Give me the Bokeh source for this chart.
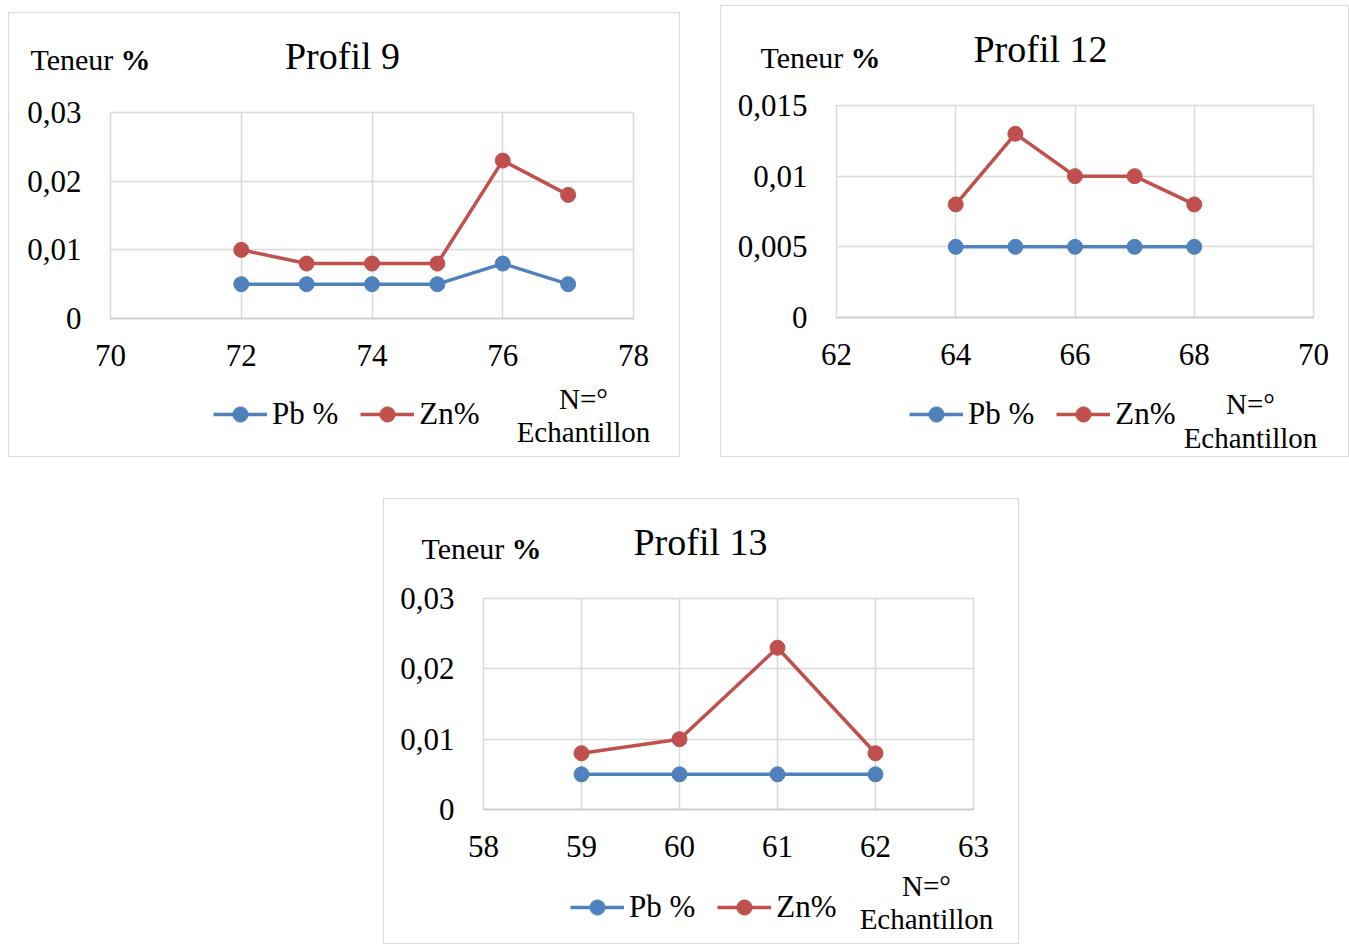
from bokeh.plotting import figure
from bokeh.models import (Range1d, FixedTicker, CustomJSTickFormatter, Label,
                          Legend, LegendItem)
from bokeh.layouts import column, row
from bokeh.embed import file_html
from bokeh.resources import INLINE

# ---------------- data ----------------
p9_x = [72, 73, 74, 75, 76, 77]
p9_pb = [0.005, 0.005, 0.005, 0.005, 0.008, 0.005]
p9_zn = [0.010, 0.008, 0.008, 0.008, 0.023, 0.018]
p9_xticks = [70, 72, 74, 76, 78]
p9_yticks = [0, 0.01, 0.02, 0.03]

p12_x = [64, 65, 66, 67, 68]
p12_pb = [0.005, 0.005, 0.005, 0.005, 0.005]
p12_zn = [0.008, 0.013, 0.010, 0.010, 0.008]
p12_xticks = [62, 64, 66, 68, 70]
p12_yticks = [0, 0.005, 0.01, 0.015]

p13_x = [59, 60, 61, 62]
p13_pb = [0.005, 0.005, 0.005, 0.005]
p13_zn = [0.008, 0.010, 0.023, 0.008]
p13_xticks = [58, 59, 60, 61, 62, 63]
p13_yticks = [0, 0.01, 0.02, 0.03]

series_names = ["Pb %", "Zn%"]
y_title = "Teneur "
y_title_bold = "%"
x_title = ["N=°", "Echantillon"]

BLUE = "#4f81bd"
RED = "#c0504d"
FONT = "Liberation Serif"
GRID = "#d9d9d9"
NAN = float("nan")
OVERLAP = 12  # bottom strip slides up over the empty part of the plot border

fmt = CustomJSTickFormatter(code="""
    if (Math.abs(tick) < 1e-12) { return '0'; }
    return String(parseFloat(tick.toFixed(4))).replace('.', ',');
""")


def blank(w, h):
    f = figure(width=w, height=h, output_backend="svg", toolbar_location=None,
               x_axis_location=None, y_axis_location=None,
               x_range=Range1d(0, w), y_range=Range1d(0, h),
               min_border=0, min_border_left=0, min_border_right=0,
               min_border_top=0, min_border_bottom=0,
               outline_line_color=None,
               background_fill_alpha=0, border_fill_alpha=0)
    f.grid.visible = False
    return f


def label(x, y, text, size, align="left", style="normal"):
    return Label(x=x, y=y, x_units="screen", y_units="screen", text=text,
                 text_font=FONT, text_font_size=size, text_font_style=style,
                 text_align=align, text_baseline="alphabetic",
                 text_color="black")


def make_chart(title, xs, pb, zn, xticks, yticks, w, hs, mb, pos, margin):
    ht, hm, hb = hs
    # ---- top strip: chart title and y title
    top = blank(w, ht)
    tx, ty = pos["title"]
    top.add_layout(label(tx, ty, title, "38px", align="center"))
    yx, yy, px = pos["ytitle"]
    top.add_layout(label(yx, yy, y_title, "30px"))
    top.add_layout(label(px, yy, y_title_bold, "30px", style="bold"))

    # ---- main plot
    p = figure(width=w, height=hm, output_backend="svg", toolbar_location=None,
               x_range=Range1d(xticks[0], xticks[-1]),
               y_range=Range1d(yticks[0], yticks[-1]),
               min_border_left=mb[0], min_border_right=mb[1],
               min_border_top=mb[2], min_border_bottom=mb[3],
               background_fill_color="white", border_fill_color="white",
               outline_line_color=GRID, outline_line_width=1.5)
    p.xaxis.ticker = FixedTicker(ticks=xticks)
    p.yaxis.ticker = FixedTicker(ticks=yticks)
    p.yaxis.formatter = fmt
    for ax in (p.xaxis[0], p.yaxis[0]):
        ax.major_tick_line_color = None
        ax.minor_tick_line_color = None
        ax.major_tick_out = 0
        ax.major_tick_in = 0
        ax.minor_tick_out = 0
        ax.major_label_text_font = FONT
        ax.major_label_text_font_size = "31px"
        ax.major_label_text_color = "black"
    p.yaxis.axis_line_color = None
    p.xaxis.axis_line_color = "#c8c8c8"
    p.xaxis.axis_line_width = 1.5
    p.xaxis.major_label_standoff = 26
    p.yaxis.major_label_standoff = 29
    p.xgrid.grid_line_color = GRID
    p.ygrid.grid_line_color = GRID
    p.xgrid.grid_line_width = 1.5
    p.ygrid.grid_line_width = 1.5

    p.line(xs, pb, line_color=BLUE, line_width=3.5)
    p.scatter(xs, pb, size=15, fill_color=BLUE, line_color=BLUE)
    p.line(xs, zn, line_color=RED, line_width=3.5)
    p.scatter(xs, zn, size=15, fill_color=RED, line_color=RED)

    # ---- bottom strip: legend and x title
    bot = blank(w, hb + OVERLAP)
    r1 = bot.line([NAN], [NAN], line_color=BLUE, line_width=3.5)
    m1 = bot.scatter([NAN], [NAN], fill_color=BLUE, line_color=BLUE)
    r2 = bot.line([NAN], [NAN], line_color=RED, line_width=3.5)
    m2 = bot.scatter([NAN], [NAN], fill_color=RED, line_color=RED)
    legend = Legend(items=[LegendItem(label=series_names[0], renderers=[r1, m1]),
                           LegendItem(label=series_names[1], renderers=[r2, m2])],
                    orientation="horizontal", location=pos["legend"],
                    label_text_font=FONT, label_text_font_size="31px",
                    label_text_color="black",
                    glyph_width=54, glyph_height=38, spacing=22,
                    label_standoff=5, padding=0, margin=0,
                    border_line_color=None, background_fill_alpha=0)
    bot.add_layout(legend)
    nx, ny, ex, ey = pos["xtitle"]
    bot.add_layout(label(nx, ny, x_title[0], "29px", align="center"))
    bot.add_layout(label(ex, ey, x_title[1], "29px", align="center"))

    return column(row(top), p, row(bot, margin=(-OVERLAP, 0, 0, 0)),
                  margin=margin, styles={"border": "1px solid #d9d9d9"})


c1 = make_chart("Profil 9", p9_x, p9_pb, p9_zn, p9_xticks, p9_yticks,
                670, (78, 289, 76), (101, 46, 21, 62),
                {"title": (333, 35.7), "ytitle": (21, 32.3, 111),
                 "legend": (204, 23), "xtitle": (574, 58, 574, 24.5)},
                (12, 0, 0, 8))
c2 = make_chart("Profil 12", p12_x, p12_pb, p12_zn, p12_xticks, p12_yticks,
                627, (79, 295, 76), (115, 35, 20, 63),
                {"title": (319, 36.7), "ytitle": (39, 28.3, 129),
                 "legend": (188, 23), "xtitle": (529, 53, 529, 18.5)},
                (5, 0, 0, 40))
c3 = make_chart("Profil 13", p13_x, p13_pb, p13_zn, p13_xticks, p13_yticks,
                634, (79, 294, 71), (99, 45, 20, 63),
                {"title": (316, 36.7), "ytitle": (37, 30.3, 127),
                 "legend": (186, 17), "xtitle": (542, 58, 542, 25)},
                (41, 0, 0, 383))

layout = column(row(c1, c2), c3)
open("out.html", "w").write(file_html(layout, INLINE))
